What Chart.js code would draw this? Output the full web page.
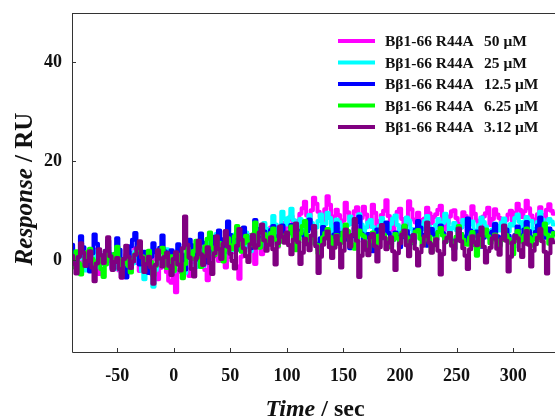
<!DOCTYPE html>
<html>
<head>
<meta charset="utf-8">
<script src="https://cdn.jsdelivr.net/npm/chart.js@4.4.1/dist/chart.umd.min.js"></script>
<style>
html,body{margin:0;padding:0;background:#fff;}
#wrap{width:555px;height:418px;position:relative;}
</style>
</head>
<body>
<div id="wrap"><canvas id="c" width="555" height="418"></canvas></div>
<script>
// ---- data ----
const times = [
 -90,-88,-86,-84,-82,-80,-78,-76,-74,-72,-70,-68,-66,-64,-62,-60,-58,-56,-54,-52,-50,-48,-46,-44,-42,
 -40,-38,-36,-34,-32,-30,-28,-26,-24,-22,-20,-18,-16,-14,-12,-10,-8,-6,-4,-2,
 0,2,4,6,8,10,12,14,16,18,20,22,24,26,28,30,32,34,36,38,40,42,44,46,48,
 50,52,54,56,58,60,62,64,66,68,70,72,74,76,78,80,82,84,86,88,90,92,94,96,98,
 100,102,104,106,108,110,112,114,116,118,120,122,124,126,128,130,132,134,136,138,
 140,142,144,146,148,150,152,154,156,158,160,162,164,166,168,170,172,174,176,178,
 180,182,184,186,188,190,192,194,196,198,200,202,204,206,208,210,212,214,216,218,
 220,222,224,226,228,230,232,234,236,238,240,242,244,246,248,250,252,254,256,258,
 260,262,264,266,268,270,272,274,276,278,280,282,284,286,288,290,292,294,296,298,
 300,302,304,306,308,310,312,314,316,318,320,322,324,326,328,330,332,334,336
];
const seriesLabel = "Bβ1-66 R44A";
const concentrations = ["50 μM","25 μM","12.5 μM","6.25 μM","3.12 μM"];
const xTickValues = [-50,0,50,100,150,200,250,300];
const yTickValues = [0,20,40];

const r50 = [
 2.5,1.4,0.8,-0.6,-1.2,0.9,1.6,-0.3,-0.5,1.8,2.1,-1.7,-2.8,-0.4,0.4,1.2,1.9,-0.2,-1.5,0.7,0.2,-2.1,-3.6,-0.9,1.1,
 0.3,-0.8,1.5,2.4,-0.6,-2.2,-1.0,0.6,1.3,-1.0,-2.7,1.5,0.2,-3.9,-1.6,0.3,-1.1,-2.4,-4.2,-4.6,
 -3.0,-6.5,-2.4,-1.8,1.2,0.5,-1.9,-3.2,-0.4,1.4,2.6,-0.6,0.9,2.2,-2.0,-4.1,-1.1,3.0,1.7,0.8,-0.2,2.9,3.8,-1.5,0.6,
 4.2,2.3,1.6,-1.3,-3.8,0.7,3.5,4.4,5.1,2.6,2.0,-0.8,4.6,3.1,1.2,5.8,4.0,3.4,6.6,6.2,3.9,2.7,5.4,7.5,6.1,
 6.8,8.2,8.9,7.0,5.6,7.9,9.4,10.5,11.8,9.0,7.2,10.1,12.6,11.4,9.8,8.7,8.1,10.3,12.9,11.2,
 7.4,8.8,10.2,9.1,6.5,8.0,11.6,9.7,8.4,7.3,9.9,10.7,5.9,8.5,10.8,9.2,7.7,6.8,11.2,9.6,
 6.4,7.9,9.1,10.0,12.1,8.9,7.0,6.1,8.6,9.8,10.4,8.3,5.7,7.2,11.9,10.3,8.2,7.6,9.6,8.1,
 6.9,8.4,10.6,9.5,7.5,8.7,9.3,10.2,11.0,8.0,6.2,7.4,8.8,9.9,10.1,8.5,7.3,6.6,9.7,8.9,
 5.8,8.2,10.9,9.4,8.0,7.1,6.6,8.8,9.5,10.6,7.1,8.3,10.3,9.2,8.5,7.0,6.0,8.1,9.2,10.0,
 7.8,9.6,11.4,10.2,8.7,9.9,12.0,10.5,9.0,8.2,7.6,9.3,10.7,9.1,8.3,10.2,11.3,10.0,9.4
];
const r25 = [
 1.2,0.4,-0.9,0.8,2.0,0.3,-2.1,-0.5,0.7,1.5,1.8,-0.2,-1.4,-0.6,0.1,1.9,2.6,0.5,-0.6,-1.8,1.0,0.2,-2.8,-1.0,0.5,
 1.4,-1.9,-0.7,1.7,0.6,-0.3,-2.2,-3.9,-0.5,0.9,-1.6,-5.4,-2.0,1.3,0.4,-0.8,1.1,2.2,0.0,-1.1,
 -2.3,-0.4,1.0,1.9,-0.8,-2.6,0.6,2.5,1.1,0.3,-1.4,3.1,2.0,-1.2,1.8,4.0,2.7,1.5,3.6,5.3,3.0,2.4,0.9,2.2,4.7,
 3.9,2.0,5.2,6.1,4.4,3.3,2.1,5.6,4.8,1.8,4.0,6.8,5.5,4.2,3.1,7.5,6.3,3.6,5.9,8.9,7.2,5.0,6.6,9.8,8.4,
 7.2,8.6,10.4,8.1,5.6,6.9,8.3,7.4,6.4,8.0,9.1,7.5,4.8,6.6,7.9,9.2,6.0,7.3,9.6,8.5,
 5.3,6.8,8.2,7.7,7.0,5.5,4.6,7.1,8.8,7.4,6.2,8.0,9.3,7.2,5.1,6.6,7.6,8.1,6.7,5.2,
 4.4,6.9,8.5,7.0,5.9,6.4,7.3,8.4,9.0,7.1,5.5,6.2,6.9,8.6,8.0,6.3,4.9,6.1,7.7,7.0,
 6.3,7.9,8.9,6.8,5.2,6.0,7.1,8.3,6.6,7.5,9.4,8.0,5.7,6.5,7.5,6.1,4.7,6.6,8.1,7.3,
 6.1,7.2,7.8,6.0,5.4,7.1,8.6,7.7,6.8,5.9,4.5,6.2,7.4,6.9,6.0,7.6,8.4,6.4,5.8,7.3,
 7.0,8.5,9.2,7.7,6.5,7.8,8.7,8.0,7.9,6.3,5.6,7.7,9.8,8.2,6.9,7.5,8.3,7.8,7.2
];
const r12 = [
 3.1,1.5,-1.0,0.8,4.8,2.6,0.6,-0.9,-2.3,1.4,5.2,3.3,1.1,-0.1,-0.7,1.8,3.9,1.2,-1.8,0.5,4.4,2.1,0.2,-1.6,-3.5,
 -0.4,2.8,4.1,5.5,1.9,-0.9,0.6,1.7,-0.8,-2.6,0.7,3.4,1.6,0.4,2.5,5.0,1.8,-1.4,0.3,2.0,
 -0.8,1.4,3.2,0.7,1.0,-1.9,0.4,4.1,3.0,2.2,0.1,2.6,5.4,3.5,1.6,-0.5,1.9,4.7,3.3,2.9,6.0,4.2,1.4,3.6,7.8,
 5.1,3.0,4.5,5.2,2.1,3.8,6.6,4.9,3.7,2.4,5.0,8.1,6.3,2.6,4.4,5.8,3.9,4.3,6.1,6.9,4.8,3.2,5.5,7.0,5.3,
 4.2,5.6,7.1,4.9,2.8,4.1,6.0,5.2,3.5,5.8,8.2,6.4,4.6,3.3,2.1,4.4,6.7,5.9,5.0,3.9,
 3.0,5.2,7.4,5.6,4.0,5.3,5.9,4.1,2.4,4.8,6.5,7.7,8.8,5.4,3.7,4.6,5.3,3.2,1.8,4.0,
 6.2,5.1,4.4,6.0,7.6,5.5,3.2,4.1,5.6,4.7,2.6,4.6,6.9,5.9,4.8,3.9,3.4,6.2,7.9,6.6,
 5.1,3.8,2.9,5.0,6.3,5.2,4.1,5.7,7.0,5.5,3.6,4.4,5.5,3.9,2.2,4.3,6.6,5.3,4.7,3.8,
 8.4,6.0,3.9,4.9,5.8,4.0,2.7,4.5,6.1,5.4,4.3,5.8,7.3,4.8,3.1,4.6,5.4,6.2,4.9,3.7,
 2.5,5.1,6.8,5.0,4.0,6.2,7.7,5.9,3.3,4.6,5.7,7.0,8.6,6.1,4.5,5.3,6.4,5.8,5.2
];
const r6 = [
 -1.5,0.4,1.8,-0.6,-2.9,-1.0,0.4,1.7,2.3,0.2,-1.1,-0.3,0.9,-1.8,-3.4,-0.9,1.5,0.6,-0.2,1.3,2.7,0.1,-1.9,-0.5,0.6,
 -1.2,-2.5,0.0,1.2,2.1,3.0,0.8,-0.7,0.5,1.9,-0.4,-3.1,-1.2,0.3,1.6,2.5,0.4,-1.6,-0.3,0.8,
 -2.2,-0.6,1.1,-1.0,-3.7,-0.8,2.4,1.2,0.2,1.9,3.9,1.5,-1.4,0.6,2.8,4.3,5.6,2.5,1.0,2.4,3.5,1.2,-0.3,2.1,4.4,
 3.0,2.2,4.8,6.9,3.6,1.7,3.3,4.9,3.8,3.0,5.2,7.6,4.4,2.5,3.9,5.3,4.6,3.8,5.5,6.4,4.1,2.9,3.7,5.0,4.6,
 3.9,5.5,6.8,4.4,2.0,3.6,5.4,6.9,7.9,5.0,3.2,4.4,5.8,3.1,1.4,3.0,4.6,5.5,6.3,4.7,
 2.7,3.9,5.1,4.2,3.5,5.6,7.2,5.9,4.0,3.1,2.3,4.4,6.0,5.2,4.8,3.4,1.9,3.8,5.6,4.9,
 3.3,5.0,6.7,5.1,4.2,3.0,2.6,4.1,5.3,4.4,3.8,5.6,7.0,4.6,2.1,3.5,4.9,5.8,6.1,4.3,
 3.0,4.1,5.5,4.7,1.6,3.2,4.4,5.7,6.5,5.0,3.6,4.4,5.0,3.5,2.4,4.7,6.9,5.3,4.1,3.2,
 3.1,4.6,5.7,3.0,0.9,2.8,4.7,5.5,6.2,4.8,3.4,4.2,5.2,3.9,2.8,4.0,6.6,5.1,4.3,3.5,
 1.2,3.9,5.9,4.4,3.7,5.0,6.4,4.6,2.9,4.2,5.1,4.5,4.0,5.6,7.4,5.2,3.3,4.6,5.5
];
const r3 = [
 0.9,-0.8,-2.7,0.6,3.4,1.5,-1.2,-0.2,1.8,-1.5,-4.3,-0.7,2.2,1.0,-0.6,1.9,4.6,0.8,-2.0,-0.4,0.4,-1.8,-3.5,0.2,2.9,
 0.7,-1.6,-0.3,1.1,2.4,3.8,0.5,-2.4,-0.8,0.7,-1.5,-4.8,-1.0,2.0,0.3,-1.3,0.6,1.5,-1.2,-3.0,
 0.2,1.6,-0.9,-2.1,2.4,8.8,3.1,0.5,-1.8,-3.3,0.4,3.9,1.2,-1.0,0.8,2.6,-0.6,-2.8,1.4,4.8,2.2,0.2,3.3,5.9,2.7,
 1.3,-0.2,-1.7,2.9,6.3,4.1,2.4,0.8,-0.4,3.2,5.1,2.5,3.0,5.6,7.2,4.0,1.9,3.1,4.6,2.2,-0.9,3.4,6.8,4.7,3.5,
 5.6,3.0,1.2,4.1,7.4,3.6,-0.8,1.5,4.3,3.2,2.0,5.0,6.9,2.8,-2.6,0.7,3.1,4.4,5.8,2.6,
 0.4,2.5,4.9,3.3,-1.5,1.9,6.2,4.8,2.7,5.1,8.3,3.9,-3.4,0.9,3.8,2.1,1.0,4.6,5.3,2.8,
 -0.3,2.6,7.1,4.5,2.2,3.5,4.6,1.8,-2.0,1.4,3.4,5.2,6.0,3.0,0.8,3.9,5.1,2.3,-1.1,1.6,
 2.9,4.8,7.6,3.5,1.5,3.0,4.2,1.9,-2.9,1.2,3.7,4.5,5.5,2.9,0.1,4.0,6.4,3.8,2.4,0.9,
 -1.8,2.2,4.8,3.6,3.0,5.1,6.6,2.7,-0.5,1.8,2.5,4.4,5.0,2.3,1.1,4.3,7.0,3.9,-2.3,0.7,
 3.6,4.9,4.4,2.0,0.6,3.3,5.9,3.1,-1.3,1.9,3.2,4.5,6.3,3.8,1.7,-2.7,1.4,4.1,3.6
];
const colors = ["#ff00ff","#00ffff","#0000ff","#00ff00","#800080"];
const allSeries = [r50, r25, r12, r6, r3];

const SERIF = "'Liberation Serif','Times New Roman',serif";

const datasets = allSeries.map((vals, i) => ({
  label: seriesLabel + "  " + concentrations[i],
  data: times.map((t, k) => ({x: t, y: vals[k]})),
  borderColor: colors[i],
  backgroundColor: colors[i],
  borderWidth: 4,
  borderJoinStyle: 'round',
  borderCapStyle: 'round',
  pointRadius: 0,
  stepped: 'middle',
  fill: false,
  order: allSeries.length - i
}));

const decor = {
  id: 'decor',
  afterDraw(chart) {
    const {ctx, chartArea: a, scales: {x, y}} = chart;
    ctx.save();
    ctx.strokeStyle = '#333';
    ctx.lineWidth = 1;
    ctx.beginPath();
    ctx.moveTo(a.left + 0.5, a.top);
    ctx.lineTo(a.left + 0.5, a.bottom + 0.5);
    ctx.lineTo(a.right, a.bottom + 0.5);
    ctx.moveTo(a.left, a.top + 0.5);
    ctx.lineTo(a.right, a.top + 0.5);
    xTickValues.forEach(v => {
      const px = Math.round(x.getPixelForValue(v)) + 0.5;
      ctx.moveTo(px, a.bottom);
      ctx.lineTo(px, a.bottom - 4);
    });
    yTickValues.forEach(v => {
      const py = Math.round(y.getPixelForValue(v)) + 0.5;
      ctx.moveTo(a.left, py);
      ctx.lineTo(a.left + 4, py);
    });
    ctx.stroke();

    ctx.fillStyle = '#111';
    ctx.textBaseline = 'alphabetic';
    const drawMixed = (parts, cx, cy) => {
      let total = 0;
      parts.forEach(p => { ctx.font = p.font; p.w = ctx.measureText(p.t).width; total += p.w; });
      let sx = cx - total / 2;
      parts.forEach(p => { ctx.font = p.font; ctx.fillText(p.t, sx, cy); sx += p.w; });
    };
    drawMixed([
      {t: 'Time', font: 'italic bold 24px ' + SERIF},
      {t: ' / sec', font: 'bold 24px ' + SERIF}
    ], 315, 416);

    ctx.save();
    ctx.translate(32, 189);
    ctx.rotate(-Math.PI / 2);
    drawMixed([
      {t: 'Response', font: 'italic bold 25px ' + SERIF},
      {t: ' / RU', font: 'bold 25px ' + SERIF}
    ], 0, 0);
    ctx.restore();

    ctx.textBaseline = 'middle';
    ctx.font = 'bold 15.5px ' + SERIF;
    chart.data.datasets.forEach((ds, i) => {
      const ly = 41 + i * 21.5;
      ctx.strokeStyle = colors[i];
      ctx.lineWidth = 4;
      ctx.beginPath();
      ctx.moveTo(338, ly);
      ctx.lineTo(375, ly);
      ctx.stroke();
      ctx.fillStyle = '#111';
      ctx.fillText(seriesLabel, 385, ly + 1);
      ctx.fillText(concentrations[i], 484, ly + 1);
    });
    ctx.restore();
  }
};

new Chart(document.getElementById('c'), {
  type: 'line',
  data: { datasets },
  options: {
    responsive: false,
    animation: false,
    devicePixelRatio: 1,
    layout: { padding: { top: 13, left: 0, right: 0, bottom: 0 } },
    plugins: { legend: { display: false }, tooltip: { enabled: false } },
    scales: {
      x: {
        type: 'linear',
        min: -90,
        max: 337,
        grid: { display: false },
        border: { display: false },
        afterBuildTicks: s => { s.ticks = xTickValues.map(v => ({value: v})); },
        afterFit: s => { s.height = 66; s.paddingLeft = 0; s.paddingRight = 0; },
        ticks: {
          color: '#111',
          font: { family: SERIF, size: 18, weight: 'bold' },
          padding: 6,
          maxRotation: 0,
          autoSkip: false
        }
      },
      y: {
        type: 'linear',
        min: -18.6,
        max: 50,
        grid: { display: false },
        border: { display: false },
        afterBuildTicks: s => { s.ticks = yTickValues.map(v => ({value: v})); },
        afterFit: s => { s.width = 72; s.paddingTop = 0; s.paddingBottom = 0; },
        ticks: {
          color: '#111',
          font: { family: SERIF, size: 18, weight: 'bold' },
          padding: 2
        }
      }
    }
  },
  plugins: [decor]
});
</script>
</body>
</html>
